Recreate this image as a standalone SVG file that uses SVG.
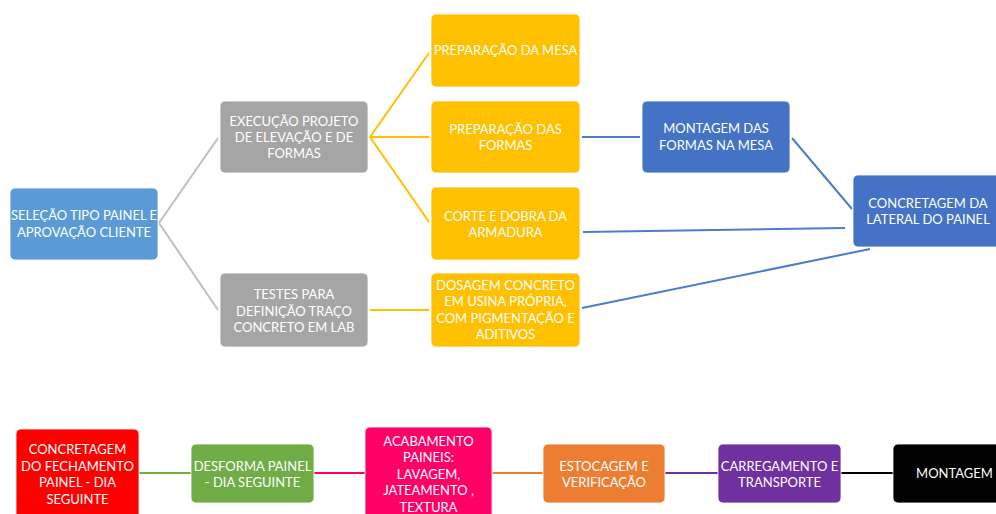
<svg xmlns="http://www.w3.org/2000/svg" width="996" height="514" viewBox="0 0 996 514">
<style>
text{font-family:Lato,"Liberation Sans",sans-serif;font-size:13px;fill:#fff;text-anchor:middle}
.n{stroke:#fff;stroke-width:0.8}
.c{fill:none;stroke-width:2}
</style>
<rect width="996" height="514" fill="#fff"/>
<g id="connectors">
<path class="c" stroke="#BFBFBF" d="M159,223 L218,138 M159,223 L218,310"/>
<path class="c" stroke="#FFC000" d="M370,137 L429,53 M370,137 L429,137 M370,137 L429,222 M370,310 L429,310"/>
<path class="c" stroke="#4F7CC9" d="M582,137 L640,137 M792,138 L852,209 M583,232 L845,228 M582,308 L870,249"/>
<path class="c" stroke="#70AD47" d="M139,473 L191,473"/>
<path class="c" stroke="#FF0066" d="M314,473 L365,473"/>
<path class="c" stroke="#ED7D31" d="M492,473 L543,473"/>
<path class="c" stroke="#7030A0" d="M665,473 L718,473"/>
<path class="c" stroke="#000" d="M841,473 L893,473"/>
</g>
<g id="selecao"><rect class="n" x="10" y="188" width="148" height="72" rx="5" fill="#5B9BD5"/><text x="84" y="219.5">SELEÇÃO TIPO PAINEL E</text><text x="84" y="236.5">APROVAÇÃO CLIENTE</text></g>
<g id="execucao"><rect class="n" x="220" y="101" width="148" height="72" rx="5" fill="#A5A5A5"/><text x="294" y="125.5">EXECUÇÃO PROJETO</text><text x="294" y="141.5">DE ELEVAÇÃO E DE</text><text x="294" y="157.5">FORMAS</text></g>
<g id="testes"><rect class="n" x="220" y="273" width="148" height="74" rx="5" fill="#A5A5A5"/><text x="294" y="298.5">TESTES PARA</text><text x="294" y="315.5">DEFINIÇÃO TRAÇO</text><text x="294" y="331.5">CONCRETO EM LAB</text></g>
<g id="prep-mesa"><rect class="n" x="431" y="14" width="149" height="73" rx="5" fill="#FFC000"/><text x="505.5" y="55">PREPARAÇÃO DA MESA</text></g>
<g id="prep-formas"><rect class="n" x="431" y="101" width="149" height="72" rx="5" fill="#FFC000"/><text x="505.5" y="133.5">PREPARAÇÃO DAS</text><text x="505.5" y="149.5">FORMAS</text></g>
<g id="corte"><rect class="n" x="431" y="187" width="149" height="73" rx="5" fill="#FFC000"/><text x="505.5" y="220.5">CORTE E DOBRA DA</text><text x="505.5" y="236.5">ARMADURA</text></g>
<g id="dosagem"><rect class="n" x="431" y="273" width="149" height="74" rx="5" fill="#FFC000"/><text x="505.5" y="289.5">DOSAGEM CONCRETO</text><text x="505.5" y="306">EM USINA PRÓPRIA,</text><text x="505.5" y="322.5">COM PIGMENTAÇÃO E</text><text x="505.5" y="339">ADITIVOS</text></g>
<g id="montagem-formas"><rect class="n" x="642" y="101" width="148" height="72" rx="5" fill="#4472C4"/><text x="716" y="132.5">MONTAGEM DAS</text><text x="716" y="149.5">FORMAS NA MESA</text></g>
<g id="concretagem-lateral"><rect class="n" x="853" y="175" width="148" height="72" rx="5" fill="#4472C4"/><text x="928" y="207.5">CONCRETAGEM DA</text><text x="928" y="223.5">LATERAL DO PAINEL</text></g>
<g id="concretagem-fechamento"><rect class="n" x="16" y="429" width="123" height="92" rx="5" fill="#FF0000"/><text x="77.5" y="453.5">CONCRETAGEM</text><text x="77.5" y="470.5">DO FECHAMENTO</text><text x="77.5" y="486.5">PAINEL - DIA</text><text x="77.5" y="503.5">SEGUINTE</text></g>
<g id="desforma"><rect class="n" x="191" y="444" width="123" height="59" rx="5" fill="#70AD47"/><text x="252.5" y="470.5">DESFORMA PAINEL</text><text x="252.5" y="486.5">- DIA SEGUINTE</text></g>
<g id="acabamento"><rect class="n" x="365" y="427" width="127" height="94" rx="5" fill="#FF0066"/><text x="428.5" y="445.5">ACABAMENTO</text><text x="428.5" y="461.5">PAINEIS:</text><text x="428.5" y="478.5">LAVAGEM,</text><text x="428.5" y="494.5">JATEAMENTO ,</text><text x="428.5" y="511.5">TEXTURA</text></g>
<g id="estocagem"><rect class="n" x="543" y="444" width="122" height="59" rx="5" fill="#ED7D31"/><text x="604" y="470.5">ESTOCAGEM E</text><text x="604" y="486.5">VERIFICAÇÃO</text></g>
<g id="carregamento"><rect class="n" x="718" y="444" width="123" height="59" rx="5" fill="#7030A0"/><text x="779.5" y="470.5">CARREGAMENTO E</text><text x="779.5" y="486.5">TRANSPORTE</text></g>
<g id="montagem"><rect class="n" x="893" y="444" width="123" height="59" rx="5" fill="#000"/><text x="954.5" y="477.5">MONTAGEM</text></g>
</svg>
